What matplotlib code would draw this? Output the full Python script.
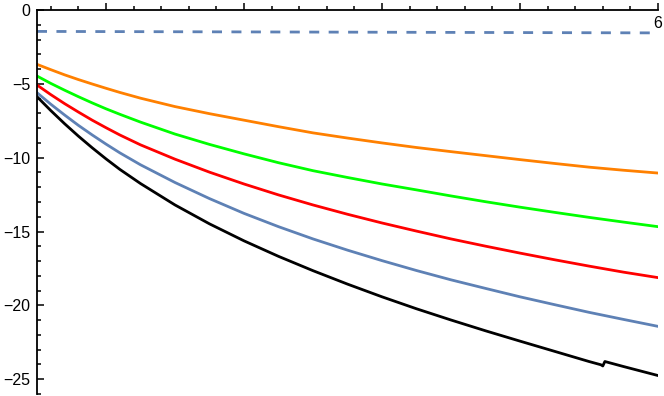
import numpy as np
import matplotlib
matplotlib.use("Agg")
import matplotlib.pyplot as plt

plt.rcParams['font.family'] = ['Liberation Sans', 'DejaVu Sans']

# values
x = [1.5, 1.6, 1.7, 1.8, 1.9, 2.0, 2.1, 2.25, 2.5, 2.75, 3.0, 3.25, 3.5, 3.75,
     4.0, 4.25, 4.5, 4.75, 5.0, 5.25, 5.5, 5.75, 6.0]
orange = [-3.68, -4.04, -4.39, -4.71, -5.01, -5.30, -5.58, -5.97, -6.54, -7.02, -7.46, -7.90,
          -8.32, -8.67, -9.00, -9.31, -9.59, -9.86, -10.13, -10.39, -10.64, -10.85, -11.04]
green = [-4.47, -4.97, -5.43, -5.87, -6.29, -6.69, -7.06, -7.59, -8.40, -9.10, -9.74, -10.34,
         -10.88, -11.34, -11.78, -12.18, -12.59, -12.98, -13.35, -13.70, -14.04, -14.36, -14.67]
red = [-5.08, -5.73, -6.34, -6.91, -7.46, -7.97, -8.46, -9.13, -10.10, -10.98, -11.78, -12.52,
       -13.20, -13.83, -14.42, -14.97, -15.50, -15.99, -16.46, -16.91, -17.34, -17.75, -18.12]
blue = [-5.60, -6.38, -7.11, -7.81, -8.46, -9.08, -9.67, -10.48, -11.68, -12.77, -13.77, -14.67,
        -15.50, -16.26, -16.97, -17.64, -18.27, -18.85, -19.42, -19.95, -20.47, -20.95, -21.42]

x_black = [1.5, 1.6, 1.7, 1.8, 1.9, 2.0, 2.1, 2.25, 2.5, 2.75, 3.0, 3.25, 3.5, 3.75,
           4.0, 4.25, 4.5, 4.75, 5.0, 5.25, 5.5, 5.586, 5.600, 5.615, 5.75, 6.0]
black = [-5.87, -6.81, -7.70, -8.54, -9.33, -10.08, -10.79, -11.75, -13.20, -14.48, -15.63,
         -16.68, -17.65, -18.56, -19.42, -20.23, -20.99, -21.72, -22.42, -23.11, -23.80,
         -24.02, -24.10, -23.80, -24.14, -24.75]

x_dash = [1.5, 6.0]
dashed = [-1.45, -1.55]

yticks = [0, -5, -10, -15, -20, -25]

fig = plt.figure(figsize=(6.64, 3.96), dpi=100)
ax = fig.add_axes([37 / 664, 2 / 396, 621 / 664, 384 / 396])

lw = 2.0
ax.plot(x_dash, dashed, color='#5E81B5', lw=lw, dashes=(3.6, 3.4))
ax.plot(x, orange, color='#FF8000', lw=lw)
ax.plot(x, green, color='#00FF00', lw=lw)
ax.plot(x, red, color='#FF0000', lw=lw)
ax.plot(x, blue, color='#5E81B5', lw=lw)
ax.plot(x_black, black, color='black', lw=lw)

ax.set_xlim(1.5, 6.0)
ax.set_ylim(-26, 0)

for s in ['right', 'bottom']:
    ax.spines[s].set_visible(False)
ax.spines['top'].set_linewidth(1.3)
ax.spines['left'].set_linewidth(1.3)

ax.xaxis.tick_top()
ax.set_xticks([2, 3, 4, 5, 6])
ax.set_xticks(np.arange(1.6, 6.01, 0.2), minor=True)
ax.tick_params(axis='x', which='both', direction='out', labeltop=False, width=1.1)
ax.tick_params(axis='x', which='major', length=5)
ax.tick_params(axis='x', which='minor', length=3)
ax.text(6.0, -0.4, "6", ha='center', va='top', fontsize=11.5)

ax.set_yticks(yticks)
ax.set_yticks(np.arange(-26, 0, 1), minor=True)
ax.set_yticklabels([str(v).replace('-', '\u2212') for v in yticks], fontsize=11.5)
ax.tick_params(axis='y', which='both', direction='in', width=1.1, pad=5)
ax.tick_params(axis='y', which='major', length=5)
ax.tick_params(axis='y', which='minor', length=3)

fig.savefig("out.png", dpi=100)
